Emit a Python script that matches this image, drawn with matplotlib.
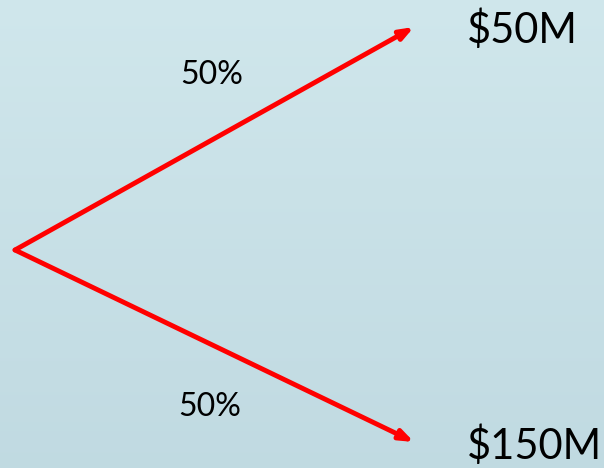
import numpy as np
import matplotlib.pyplot as plt

# decision tree branch: start point, two outcomes
start = (15, 250)
outcomes = ["$50M", "$150M"]
probs = ["50%", "50%"]
tips = [(414, 27), (414, 442)]

fig = plt.figure(figsize=(6.04, 4.68), dpi=100)
ax = fig.add_axes([0, 0, 1, 1])
ax.set_xlim(0, 604)
ax.set_ylim(468, 0)
ax.axis('off')

# soft blue gradient background
grad = np.linspace(0, 1, 256).reshape(-1, 1)
top = np.array([0.815, 0.905, 0.925])
bot = np.array([0.755, 0.855, 0.885])
img = top + (bot - top) * grad[..., None]
ax.imshow(img, extent=[0, 604, 468, 0], aspect='auto', zorder=0)

for tip in tips:
    ax.annotate("", xy=tip, xytext=start,
                arrowprops=dict(arrowstyle="-|>,head_length=0.8,head_width=0.3",
                                color="#ff0000", lw=3.5, shrinkA=0, shrinkB=0),
                zorder=2)

ax.text(467, 30, outcomes[0], fontsize=30, family="Lato", ha="left", va="center")
ax.text(467, 446, outcomes[1], fontsize=30, family="Lato", ha="left", va="center")
ax.text(212, 75, probs[0], fontsize=23, family="Lato", ha="center", va="center")
ax.text(210, 407, probs[1], fontsize=23, family="Lato", ha="center", va="center")

fig.savefig("out.png", dpi=100)
